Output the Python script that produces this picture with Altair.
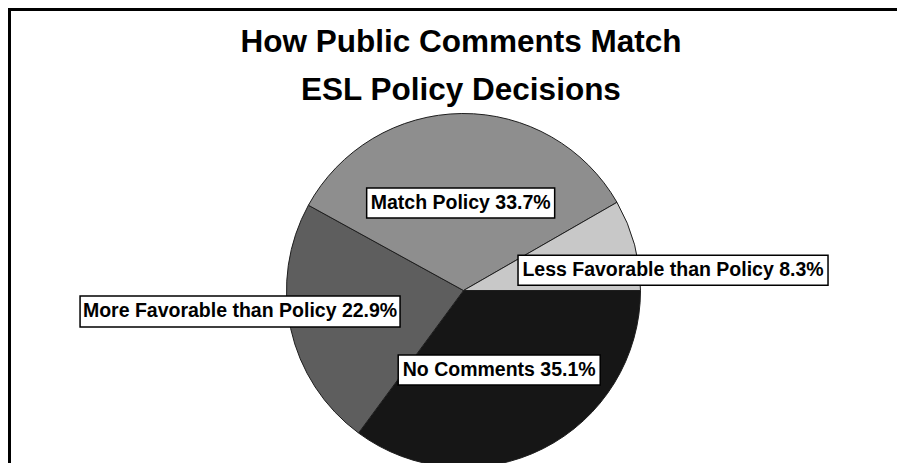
import math
import altair as alt
import pandas as pd

# ---- data ----
categories = ["No Comments", "More Favorable than Policy", "Match Policy", "Less Favorable than Policy"]
percents = [35.1, 22.9, 33.7, 8.3]
title_lines = ["How Public Comments Match", "ESL Policy Decisions"]
fills = ["#161616", "#5e5e5e", "#8e8e8e", "#c8c8c8"]

df = pd.DataFrame({"category": categories, "percent": percents,
                   "idx": list(range(len(categories)))})

# ---- layout / style ----
W, H = 889, 455
CX, CY = 455.5, 282.5
R = 177
RL = 88
START = math.pi / 2
FONT = "Liberation Sans"

base = alt.Chart(df)

pie = base.mark_arc(outerRadius=R, stroke="#1e1e1e", strokeWidth=1).encode(
    theta=alt.Theta("percent:Q", stack=True,
                    scale=alt.Scale(range=[START, START + 2 * math.pi])),
    order=alt.Order("idx:Q"),
    color=alt.Color("category:N", scale=alt.Scale(domain=categories, range=fills), legend=None),
    x=alt.value(CX),
    y=alt.value(CY),
)

labels_base = base.transform_joinaggregate(total="sum(percent)").transform_window(
    cum="sum(percent)", sort=[alt.SortField("idx", order="ascending")], frame=[None, 0]
).transform_calculate(
    mid=f"{START} + 2 * PI * (datum.cum - datum.percent / 2) / datum.total",
    ax=f"{CX} + {RL} * sin(datum.mid)",
    ay=f"{CY} - {RL} * cos(datum.mid)",
    label="datum.category + ' ' + format(datum.percent, '.1f') + '%'",
)

# box width, box height, x offset, y offset (pixels) for each label
label_layout = {
    "No Comments": (202, 30, -4, 1),
    "More Favorable than Policy": (320, 31, -137.5, 2),
    "Match Policy": (188, 30, -2, 0.5),
    "Less Favorable than Policy": (310, 30, 124.5, 2.5),
}

boxes, texts = [], []
for cat in categories:
    w, h, ox, oy = label_layout[cat]
    sel = labels_base.transform_filter(alt.datum.category == cat).transform_calculate(
        bx1=f"datum.ax + {ox - w / 2}",
        bx2=f"datum.ax + {ox + w / 2}",
        by1=f"datum.ay + {oy - h / 2}",
        by2=f"datum.ay + {oy + h / 2}",
    )
    boxes.append(sel.mark_rect(fill="white", stroke="black", strokeWidth=1.5).encode(
        x=alt.X("bx1:Q", scale=None, axis=None), x2="bx2:Q",
        y=alt.Y("by1:Q", scale=None, axis=None), y2="by2:Q",
    ))
    texts.append(sel.mark_text(dx=ox, dy=oy, font=FONT, fontWeight="bold", fontSize=19.5,
                               color="black", align="center", baseline="middle").encode(
        x=alt.X("ax:Q", scale=None, axis=None),
        y=alt.Y("ay:Q", scale=None, axis=None),
        text="label:N",
    ))

frame_top = base.mark_rule(color="black", strokeWidth=3).encode(
    x=alt.value(0), x2=alt.value(W), y=alt.value(1.5))
frame_left = base.mark_rule(color="black", strokeWidth=3).encode(
    x=alt.value(1.5), y=alt.value(0), y2=alt.value(H))

chart = alt.layer(pie, *boxes, *texts, frame_top, frame_left).properties(
    width=W, height=H,
    title=alt.TitleParams(text=title_lines, font=FONT, fontSize=31.5, fontWeight="bold",
                          color="black", anchor="start", frame="group",
                          baseline="alphabetic", lineHeight=48, offset=-125, dx=453,
                          align="center"),
    autosize=alt.AutoSizeParams(type="none"),
    padding=0,
).configure_view(stroke="transparent", strokeWidth=0)

chart.save("out.html", embed_options={"renderer": "svg", "actions": False})
